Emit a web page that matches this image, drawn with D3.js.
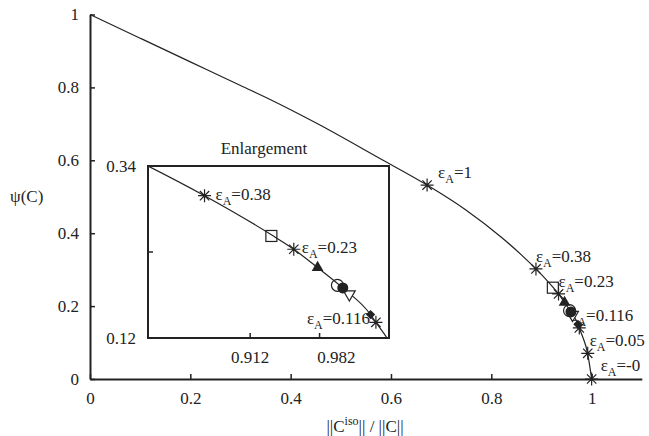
<!DOCTYPE html>
<html>
<head>
<meta charset="utf-8">
<script src="https://cdn.jsdelivr.net/npm/d3@7"></script>
<style>
  body { margin: 0; background: #fff; }
  svg text { font-family: "Liberation Serif", "Times New Roman", Times, "DejaVu Serif", serif !important; fill: #222; }
</style>
</head>
<body>
<script>
// curve psi(C) vs ||Ciso||/||C||
var curveX = [0, 0.1, 0.2, 0.3, 0.359, 0.45, 0.578, 0.672, 0.75, 0.82, 0.8605, 0.889, 0.9227, 0.934, 0.946, 0.9587, 0.9727, 0.9754, 0.981, 0.992, 1.0];
var curveY = [1, 0.935, 0.870, 0.805, 0.767, 0.703, 0.605, 0.532, 0.463, 0.389, 0.340, 0.302, 0.252, 0.2335, 0.210, 0.184, 0.150, 0.14, 0.12, 0.0705, 0];

// eps_A stars
var starEps = ["1", "0.38", "0.23", "0.116", "0.05", "-0"];
var starX = [0.672, 0.889, 0.934, 0.9754, 0.9922, 1.0];
var starY = [0.532, 0.302, 0.2335, 0.14, 0.0705, 0];

// other markers
var markKind = ["square", "triUp", "circleOpen", "circleFill", "triDown", "diamond"];
var markX = [0.9227, 0.946, 0.956, 0.9587, 0.962, 0.9727];
var markY = [0.2505, 0.210, 0.1874, 0.184, 0.176, 0.150];

var xTicks = [0, 0.2, 0.4, 0.6, 0.8, 1];
var yTicks = [0, 0.2, 0.4, 0.6, 0.8, 1];
var insetXTicks = [0.912, 0.947];
var insetYTicks = [0.12, 0.23, 0.34];

var W = 649, H = 436, ink = "#222", fs = 17, fsSub = 12;
var svg = d3.select("body").append("svg").attr("width", W).attr("height", H);

var x = d3.scaleLinear().domain([0, 1.1]).range([90, 641.8]);
var y = d3.scaleLinear().domain([0, 1]).range([379, 14.5]);
var xi = d3.scaleLinear().domain([0.8605, 0.982]).range([148, 389]);
var yi = d3.scaleLinear().domain([0.12, 0.34]).range([338, 166]);

function fmt(d) { return d3.format("~g")(d); }

// main axes
var gx = svg.append("g").attr("transform", "translate(0,379)")
  .call(d3.axisBottom(x).tickValues(xTicks).tickSize(-5).tickSizeOuter(0).tickPadding(13).tickFormat(fmt));
var gy = svg.append("g").attr("transform", "translate(90,0)")
  .call(d3.axisLeft(y).tickValues(yTicks).tickSize(-5).tickSizeOuter(0).tickPadding(11).tickFormat(fmt));
[gx, gy].forEach(function(g) {
  g.attr("font-family", null);
  g.select(".domain").attr("stroke", ink).attr("stroke-width", 2);
  g.selectAll(".tick line").attr("stroke", ink).attr("stroke-width", 1.5);
  g.selectAll("text").attr("font-size", fs).attr("fill", ink);
});

function curveData(xs, ys) { return xs.map(function(v, i) { return [v, ys[i]]; }); }
var pts = curveData(curveX, curveY);

svg.append("path").datum(pts)
  .attr("d", d3.line().x(function(d) { return x(d[0]); }).y(function(d) { return y(d[1]); }).curve(d3.curveMonotoneX))
  .attr("fill", "none").attr("stroke", ink).attr("stroke-width", 1.2);

// axis titles
var xt = svg.append("text").attr("x", 365).attr("y", 432).attr("text-anchor", "middle").attr("font-size", fs);
xt.append("tspan").text("||C");
xt.append("tspan").attr("font-size", fsSub).attr("dy", -7).text("iso");
xt.append("tspan").attr("dy", 7).text("|| / ||C||");
svg.append("text").attr("x", 10).attr("y", 202).attr("font-size", fs).text("\u03c8(C)");

// inset
var inset = svg.append("g");
svg.append("clipPath").attr("id", "clipIn").append("rect")
  .attr("x", 148).attr("y", 166).attr("width", 241).attr("height", 172);
inset.append("path").datum(pts).attr("clip-path", "url(#clipIn)")
  .attr("d", d3.line().x(function(d) { return xi(d[0]); }).y(function(d) { return yi(d[1]); }).curve(d3.curveMonotoneX))
  .attr("fill", "none").attr("stroke", ink).attr("stroke-width", 1.2);
inset.append("rect").attr("x", 148).attr("y", 166).attr("width", 241).attr("height", 172)
  .attr("fill", "none").attr("stroke", ink).attr("stroke-width", 2);
inset.selectAll(".ixt").data(insetXTicks).enter().append("line")
  .attr("x1", xi).attr("x2", xi).attr("y1", 338).attr("y2", 333).attr("stroke", ink).attr("stroke-width", 1.5);
inset.selectAll(".iyt").data([0.23]).enter().append("line")
  .attr("x1", 148).attr("x2", 153).attr("y1", yi).attr("y2", yi).attr("stroke", ink).attr("stroke-width", 1.5);
inset.selectAll(".iyl").data([0.12, 0.34]).enter().append("text")
  .attr("x", 136).attr("y", yi).attr("dy", "0.35em").attr("text-anchor", "end").attr("font-size", fs)
  .text(function(d) { return d; });
inset.append("text").attr("x", xi(0.912)).attr("y", 351).attr("dy", "0.71em").attr("text-anchor", "middle")
  .attr("font-size", fs).text("0.912");
inset.append("text").attr("x", xi(0.9555)).attr("y", 351).attr("dy", "0.71em").attr("text-anchor", "middle")
  .attr("font-size", fs).text("0.982");
inset.append("text").attr("x", 264).attr("y", 154).attr("text-anchor", "middle").attr("font-size", fs).text("Enlargement");

// labels
function epsLabel(g, px, py, val, anchor) {
  var t = g.append("text").attr("x", px).attr("y", py).attr("font-size", fs).attr("text-anchor", anchor || "start");
  t.append("tspan").text("\u03b5");
  t.append("tspan").attr("font-size", fsSub).attr("dy", 5).text("A");
  t.append("tspan").attr("dy", -5).text("=" + val);
}
// main label offsets (px) from each star
var mainOff = [[11, -7], [0, -7], [0, -7], [-9, -7], [2, -7], [9, -8]];
starEps.forEach(function(e, i) {
  epsLabel(svg, x(starX[i]) + mainOff[i][0], y(starY[i]) + mainOff[i][1], e);
});
var insetIdx = [1, 2, 3];
var insetOff = [[11, 4], [8, 4], [-6, 2]];
insetIdx.forEach(function(k, j) {
  epsLabel(inset, xi(starX[k]) + insetOff[j][0], yi(starY[k]) + insetOff[j][1], starEps[k], j === 2 ? "end" : "start");
});

// markers
function star(g, cx, cy) {
  var r = 6.5, a = r * 0.72;
  g.append("path").attr("d",
    "M" + (cx - r) + "," + cy + "h" + 2 * r +
    "M" + cx + "," + (cy - r) + "v" + 2 * r +
    "M" + (cx - a) + "," + (cy - a) + "l" + 2 * a + "," + 2 * a +
    "M" + (cx - a) + "," + (cy + a) + "l" + 2 * a + "," + (-2 * a))
    .attr("stroke", ink).attr("stroke-width", 1.2).attr("fill", "none");
}
function marker(g, kind, cx, cy) {
  var s;
  if (kind === "square") {
    g.append("rect").attr("x", cx - 5.5).attr("y", cy - 5.5).attr("width", 11).attr("height", 11)
      .attr("fill", "none").attr("stroke", ink).attr("stroke-width", 1.2);
  } else if (kind === "triUp") {
    s = d3.symbol().type(d3.symbolTriangle).size(60);
    g.append("path").attr("d", s()).attr("transform", "translate(" + cx + "," + cy + ")").attr("fill", ink);
  } else if (kind === "triDown") {
    s = d3.symbol().type(d3.symbolTriangle).size(60);
    g.append("path").attr("d", s()).attr("transform", "translate(" + cx + "," + cy + ") rotate(180)")
      .attr("fill", "#fff").attr("stroke", ink).attr("stroke-width", 1.2);
  } else if (kind === "circleOpen") {
    g.append("circle").attr("cx", cx).attr("cy", cy).attr("r", 6).attr("fill", "none").attr("stroke", ink).attr("stroke-width", 1.2);
  } else if (kind === "circleFill") {
    g.append("circle").attr("cx", cx).attr("cy", cy).attr("r", 5.5).attr("fill", ink);
  } else if (kind === "diamond") {
    s = d3.symbol().type(d3.symbolDiamond2).size(55);
    g.append("path").attr("d", s()).attr("transform", "translate(" + cx + "," + cy + ")").attr("fill", ink);
  }
}
var order = [0, 1, 2, 4, 3, 5];
order.forEach(function(i) { marker(svg, markKind[i], x(markX[i]), y(markY[i])); });
order.forEach(function(i) { marker(inset, markKind[i], xi(markX[i]), yi(markY[i])); });
starX.forEach(function(v, i) { star(svg, x(v), y(starY[i])); });
insetIdx.forEach(function(k) { star(inset, xi(starX[k]), yi(starY[k])); });
</script>
</body>
</html>
